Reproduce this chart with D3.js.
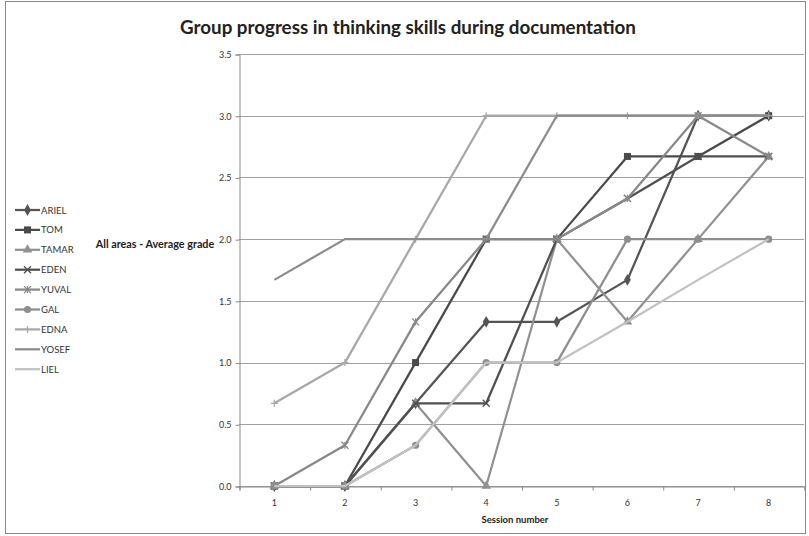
<!DOCTYPE html>
<html>
<head>
<meta charset="utf-8">
<script src="https://cdn.jsdelivr.net/npm/d3@7"></script>
<style>
  body { margin: 0; background: #fff; }
  text { font-family: Lato, "Open Sans", sans-serif; }
</style>
</head>
<body>
<div id="chart"></div>
<script>
var sessions = [1, 2, 3, 4, 5, 6, 7, 8];
var names = ["ARIEL", "TOM", "TAMAR", "EDEN", "YUVAL", "GAL", "EDNA", "YOSEF", "LIEL"];
var ariel = [0, 0, 0.67, 1.33, 1.33, 1.67, 3.0, 3.0];
var tom   = [0, 0, 1.0, 2.0, 2.0, 2.67, 2.67, 3.0];
var tamar = [0, 0, 0.67, 0, 2.0, 1.33, 2.0, 2.67];
var eden  = [0, 0, 0.67, 0.67, 2.0, 2.33, 2.67, 2.67];
var yuval = [0, 0.33, 1.33, 2.0, 2.0, 2.33, 3.0, 2.67];
var gal   = [0, 0, 0.33, 1.0, 1.0, 2.0, 2.0, 2.0];
var edna  = [0.67, 1.0, 2.0, 3.0, 3.0, 3.0, 3.0, 3.0];
var yosef = [1.67, 2.0, 2.0, 2.0, 3.0, 3.0, 3.0, 3.0];
var liel  = [0, 0, 0.33, 1.0, 1.0, 1.33, 1.67, 2.0];
var yTicks = [0, 0.5, 1.0, 1.5, 2.0, 2.5, 3.0, 3.5];

var values = [ariel, tom, tamar, eden, yuval, gal, edna, yosef, liel];
var colors = ["#555555", "#4a4a4a", "#919191", "#505050", "#888888", "#8e8e8e", "#a8a8a8", "#8c8c8c", "#c2c2c2"];
var markers = ["diamond", "square", "triangle", "x", "star", "circle", "plus", null, null];

var W = 809, H = 536;
var svg = d3.select("#chart").append("svg").attr("width", W).attr("height", H);

// chart border
svg.append("rect").attr("x", 5.5).attr("y", 1.5).attr("width", 800).attr("height", 532)
  .attr("fill", "none").attr("stroke", "#8a8a8a");

var x = d3.scaleLinear().domain([0.5, 8.5]).range([239, 804]);
var y = d3.scaleLinear().domain([0, 3.5]).range([486, 54]);

// gridlines
svg.append("g").selectAll("line").data(yTicks).enter().append("line")
  .attr("x1", 239).attr("x2", 804)
  .attr("y1", function(d) { return Math.round(y(d)) + 0.5; })
  .attr("y2", function(d) { return Math.round(y(d)) + 0.5; })
  .attr("stroke", "#a0a0a0").attr("stroke-width", 1.2);

// y axis
var yAxis = d3.axisLeft(y).tickValues(yTicks).tickFormat(d3.format(".1f")).tickSize(4).tickPadding(4);
var gy = svg.append("g").attr("transform", "translate(239.5,0.5)").call(yAxis);
gy.select(".domain").attr("stroke", "#8a8a8a");
gy.selectAll(".tick line").attr("stroke", "#8a8a8a");
gy.selectAll("text").attr("font-size", 9).attr("fill", "#333");

// x axis
var xAxis = d3.axisBottom(x).tickValues([0.5, 1.5, 2.5, 3.5, 4.5, 5.5, 6.5, 7.5, 8.5]).tickFormat("").tickSize(4);
var gx = svg.append("g").attr("transform", "translate(0.5," + (Math.round(y(0)) + 0.5) + ")").call(xAxis);
gx.select(".domain").attr("stroke", "#8a8a8a");
gx.selectAll(".tick line").attr("stroke", "#8a8a8a");
svg.append("g").selectAll("text").data(sessions).enter().append("text")
  .attr("x", function(d) { return x(d); }).attr("y", 506)
  .attr("text-anchor", "middle").attr("font-size", 9).attr("fill", "#333")
  .text(function(d) { return d; });

// titles
svg.append("text").attr("x", 408).attr("y", 34).attr("text-anchor", "middle")
  .attr("font-size", 18.8).attr("font-weight", "bold").attr("fill", "#222")
  .text("Group progress in thinking skills during documentation");
svg.append("text").attr("x", 155).attr("y", 248).attr("text-anchor", "middle")
  .attr("font-size", 10.8).attr("font-weight", "bold").attr("fill", "#222")
  .text("All areas - Average grade");
svg.append("text").attr("x", 515).attr("y", 523).attr("text-anchor", "middle")
  .attr("font-size", 9.5).attr("font-weight", "bold").attr("fill", "#222")
  .text("Session number");

function drawMarker(g, type, cx, cy, color) {
  var s = 3.5;
  if (type == "diamond") {
    g.append("path").attr("d", d3.symbol().type(d3.symbolDiamond).size(40)()).attr("transform", "translate(" + cx + "," + cy + ")").attr("fill", color);
  } else if (type == "square") {
    g.append("rect").attr("x", cx - s).attr("y", cy - s).attr("width", 2 * s).attr("height", 2 * s).attr("fill", color);
  } else if (type == "triangle") {
    g.append("path").attr("d", d3.symbol().type(d3.symbolTriangle).size(40)()).attr("transform", "translate(" + cx + "," + cy + ")").attr("fill", color);
  } else if (type == "circle") {
    g.append("circle").attr("cx", cx).attr("cy", cy).attr("r", 3.6).attr("fill", color);
  } else if (type == "x" || type == "star") {
    g.append("path").attr("d", "M" + (cx - s) + "," + (cy - s) + "L" + (cx + s) + "," + (cy + s) + "M" + (cx - s) + "," + (cy + s) + "L" + (cx + s) + "," + (cy - s))
      .attr("stroke", color).attr("stroke-width", 1.3);
    if (type == "star") {
      g.append("path").attr("d", "M" + cx + "," + (cy - s) + "L" + cx + "," + (cy + s)).attr("stroke", color).attr("stroke-width", 1.3);
    }
  } else if (type == "plus") {
    g.append("path").attr("d", "M" + (cx - s) + "," + cy + "L" + (cx + s) + "," + cy + "M" + cx + "," + (cy - s) + "L" + cx + "," + (cy + s))
      .attr("stroke", color).attr("stroke-width", 1.3);
  }
}

var line = d3.line().x(function(d, i) { return x(sessions[i]); }).y(function(d) { return y(d); });

for (var k = 0; k < names.length; k++) {
  var g = svg.append("g");
  g.append("path").datum(values[k]).attr("d", line).attr("fill", "none")
    .attr("stroke", colors[k]).attr("stroke-width", 2.25).attr("stroke-linejoin", "round");
  if (markers[k]) {
    for (var i = 0; i < sessions.length; i++) {
      drawMarker(g, markers[k], x(sessions[i]), y(values[k][i]), colors[k]);
    }
  }
  // legend
  var ly = 210 + k * 19.9;
  var lg = svg.append("g");
  lg.append("line").attr("x1", 15).attr("x2", 40).attr("y1", ly).attr("y2", ly)
    .attr("stroke", colors[k]).attr("stroke-width", 2.25);
  if (markers[k]) drawMarker(lg, markers[k], 27.5, ly, colors[k]);
  lg.append("text").attr("x", 41).attr("y", ly + 3.5).attr("font-size", 9.5).attr("fill", "#333").text(names[k]);
}
</script>
</body>
</html>
